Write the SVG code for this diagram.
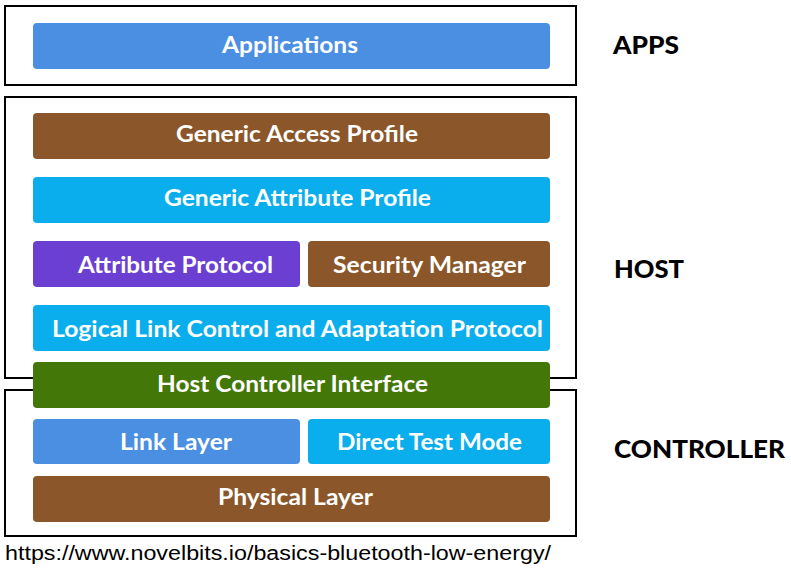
<svg xmlns="http://www.w3.org/2000/svg" width="791" height="569" viewBox="0 0 791 569">
<style>
.frame{fill:none;stroke:#000;stroke-width:2}
.bar text{font-family:Lato,"Noto Sans",sans-serif;font-weight:bold;font-size:22px;fill:#fff;text-anchor:middle}
.blue{fill:#4A8FE2}
.brown{fill:#8B572A}
.cyan{fill:#0AAEEC}
.purple{fill:#6B3FD1}
.green{fill:#437808}
.lbl{font-family:Lato,"Noto Sans",sans-serif;font-weight:900;font-size:24px;fill:#000}
.url{font-family:"Liberation Sans",Arial,sans-serif;font-size:20px;fill:#000}
</style>
<rect width="791" height="569" fill="#fff"/>
<g id="frames">
<rect id="apps-frame" class="frame" x="5" y="6" width="571" height="79"/>
<path id="host-frame" class="frame" d="M33,378 H5 V97 H576 V378 H550"/>
<path id="controller-frame" class="frame" d="M33,390 H5 V536 H576 V390 H550"/>
</g>
<g id="connectors"></g>
<g id="applications" class="bar"><rect class="blue" x="33" y="23" width="517" height="46" rx="4"/><text x="290" y="53" textLength="136" lengthAdjust="spacingAndGlyphs">Applications</text></g>
<g id="gap" class="bar"><rect class="brown" x="33" y="113" width="517" height="46" rx="4"/><text x="297" y="142" textLength="242" lengthAdjust="spacingAndGlyphs">Generic Access Profile</text></g>
<g id="gatt" class="bar"><rect class="cyan" x="33" y="177" width="517" height="46" rx="4"/><text x="297.5" y="206" textLength="267" lengthAdjust="spacingAndGlyphs">Generic Attribute Profile</text></g>
<g id="att" class="bar"><rect class="purple" x="33" y="241" width="267" height="46" rx="4"/><text x="175.5" y="273" textLength="195" lengthAdjust="spacingAndGlyphs">Attribute Protocol</text></g>
<g id="sm" class="bar"><rect class="brown" x="308" y="241" width="242" height="46" rx="4"/><text x="429.5" y="273" textLength="193" lengthAdjust="spacingAndGlyphs">Security Manager</text></g>
<g id="l2cap" class="bar"><rect class="cyan" x="33" y="305" width="517" height="46" rx="4"/><text x="297.5" y="337" textLength="491" lengthAdjust="spacingAndGlyphs">Logical Link Control and Adaptation Protocol</text></g>
<g id="hci" class="bar"><rect class="green" x="33" y="362" width="517" height="46" rx="4"/><text x="292.5" y="392" textLength="271" lengthAdjust="spacingAndGlyphs">Host Controller Interface</text></g>
<g id="ll" class="bar"><rect class="blue" x="33" y="419" width="267" height="45" rx="4"/><text x="176" y="450" textLength="112" lengthAdjust="spacingAndGlyphs">Link Layer</text></g>
<g id="dtm" class="bar"><rect class="cyan" x="308" y="419" width="242" height="45" rx="4"/><text x="429.5" y="450" textLength="185" lengthAdjust="spacingAndGlyphs">Direct Test Mode</text></g>
<g id="phy" class="bar"><rect class="brown" x="33" y="476" width="517" height="46" rx="4"/><text x="295.5" y="505" textLength="155" lengthAdjust="spacingAndGlyphs">Physical Layer</text></g>
<g id="labels">
<text class="lbl" x="613" y="54" textLength="66" lengthAdjust="spacingAndGlyphs">APPS</text>
<text class="lbl" x="614" y="278" textLength="70" lengthAdjust="spacingAndGlyphs">HOST</text>
<text class="lbl" x="614" y="458" textLength="171" lengthAdjust="spacingAndGlyphs">CONTROLLER</text>
</g>
<text class="url" x="5" y="560" textLength="546" lengthAdjust="spacingAndGlyphs">https://www.novelbits.io/basics-bluetooth-low-energy/</text>
</svg>
